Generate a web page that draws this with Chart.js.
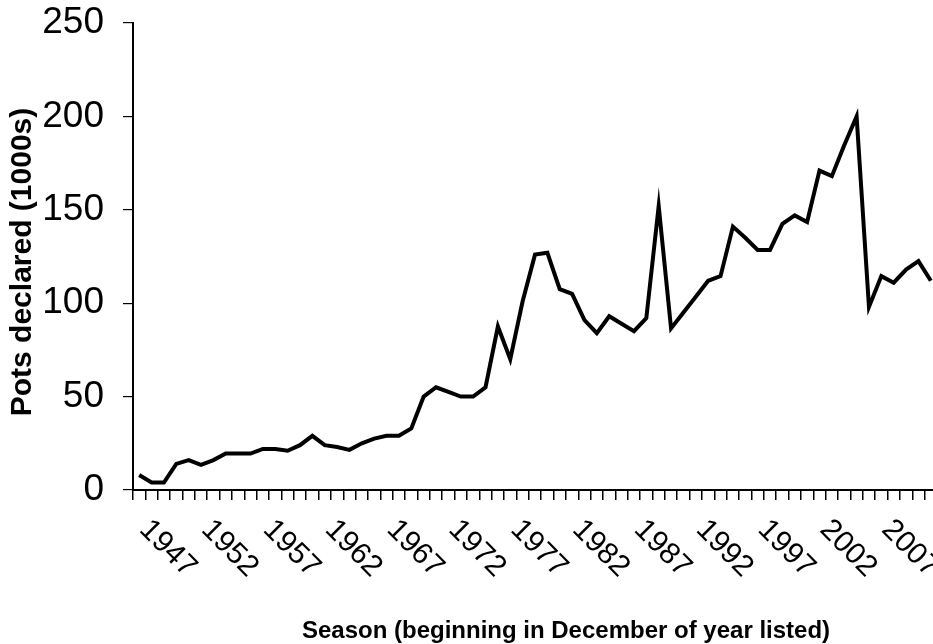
<!DOCTYPE html>
<html lang="en">

<head>
    <meta charset="UTF-8">
    <title>Pots declared</title>
    <style>
        html, body {
            margin: 0;
            padding: 0;
            overflow: hidden;
            background: #fff;
        }

        .charte {
            width: 937px;
            height: 644px;
        }
    </style>
</head>

<body>
    <div class="charte">
        <canvas id="myChart"></canvas>
    </div>

    <script src="https://cdn.jsdelivr.net/npm/chart.js"></script>
    <script>
        // seasons 1947 - 2011
        const seasons = [];
        for (let y = 1947; y <= 2011; y++) seasons.push(String(y));

        // pots declared, thousands
        const pots = [
            8, 4, 4, 14, 16, 13.5, 16, 19.5, 19.5, 19.5,
            22, 22, 21, 24, 29, 24, 23, 21.5, 25, 27.5,
            29, 29, 33, 50, 55, 52.5, 50, 50, 55, 87.5,
            70, 101, 126, 127, 107.5, 105, 91, 84, 93, 89,
            85, 92, 152, 86.5, 95, 103.5, 112, 114.5, 141, 135,
            128.5, 128.5, 142.5, 147, 143.5, 171, 168, 184.5, 200, 98,
            114.5, 111, 118, 122.5, 112
        ];

        const yTicks = [0, 50, 100, 150, 200, 250];
        const labelEvery = 5;

        const font = '"Liberation Sans", Arial, sans-serif';

        // labels turned clockwise + axis titles
        const extraText = {
            id: 'extraText',
            afterDraw(chart) {
                const ctx = chart.ctx;
                const xs = chart.scales.x;
                ctx.save();
                ctx.fillStyle = '#000';
                ctx.font = '30px ' + font;
                ctx.textAlign = 'left';
                ctx.textBaseline = 'middle';
                seasons.forEach((s, i) => {
                    if (i % labelEvery !== 0) return;
                    const x = xs.getPixelForValue(i);
                    ctx.save();
                    ctx.translate(x + 5, 525);
                    ctx.rotate(Math.PI / 4);
                    ctx.fillText(s, 0, 0);
                    ctx.restore();
                });

                ctx.font = 'bold 24px ' + font;
                ctx.textAlign = 'center';
                ctx.textBaseline = 'alphabetic';
                ctx.fillText('Season (beginning in December of year listed)', 566, 638);

                ctx.translate(31, 262);
                ctx.rotate(-Math.PI / 2);
                ctx.font = 'bold 30px ' + font;
                ctx.fillText('Pots declared (1000s)', 0, 0);
                ctx.restore();
            }
        };

        new Chart(document.getElementById('myChart'), {
            type: 'line',
            data: {
                labels: seasons,
                datasets: [{
                    data: pots,
                    borderColor: '#000',
                    borderWidth: 4,
                    pointRadius: 0,
                    tension: 0,
                    fill: false
                }]
            },
            options: {
                responsive: true,
                maintainAspectRatio: false,
                animation: false,
                layout: { padding: { top: 23, right: 0, bottom: 0, left: 0 } },
                plugins: {
                    legend: { display: false },
                    tooltip: { enabled: false }
                },
                scales: {
                    x: {
                        type: 'category',
                        offset: true,
                        grid: {
                            offset: true,
                            drawOnChartArea: false,
                            drawTicks: true,
                            tickLength: 10,
                            color: '#000',
                            lineWidth: 1.5
                        },
                        border: { color: '#000', width: 2 },
                        ticks: { display: false },
                        afterFit(scale) { scale.height = 154; }
                    },
                    y: {
                        min: 0,
                        max: 250,
                        afterBuildTicks(scale) {
                            scale.ticks = yTicks.map(v => ({ value: v }));
                        },
                        grid: {
                            drawOnChartArea: false,
                            drawTicks: true,
                            tickLength: 10,
                            color: '#000',
                            lineWidth: 1.2
                        },
                        border: { color: '#000', width: 2 },
                        ticks: {
                            color: '#000',
                            padding: 19,
                            font: { family: font, size: 37 }
                        },
                        afterFit(scale) {
                            scale.width = 133;
                            scale.paddingTop = 0;
                            scale.paddingBottom = 0;
                        }
                    }
                }
            },
            plugins: [extraText]
        });
    </script>

</body>

</html>
